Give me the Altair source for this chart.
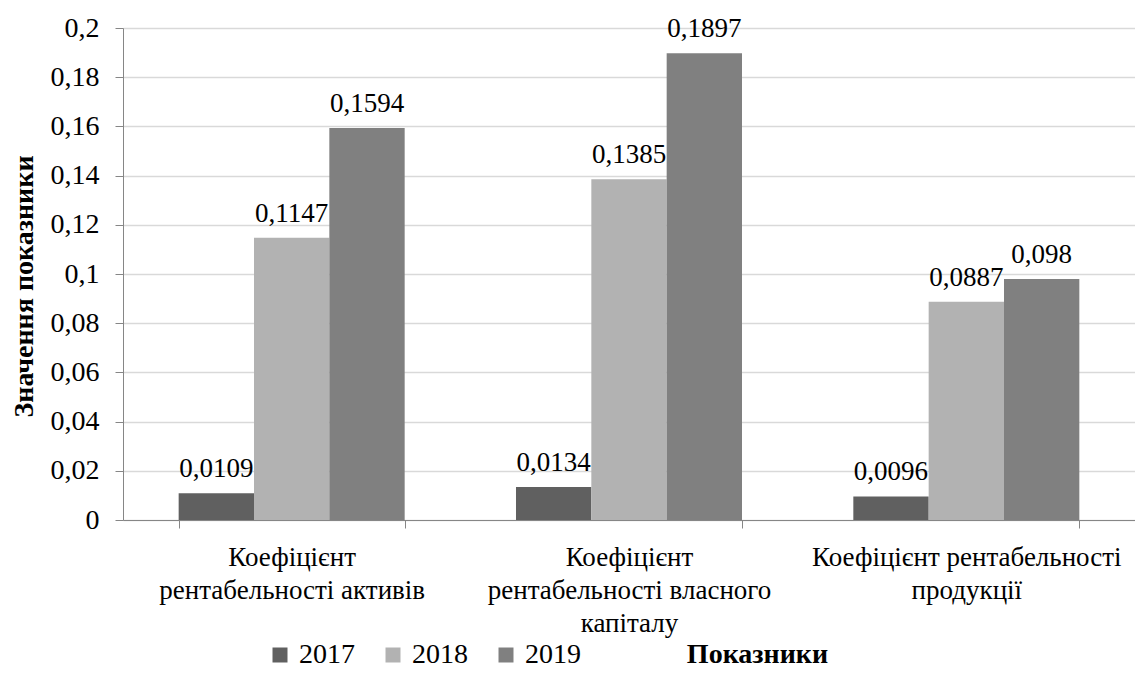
import altair as alt
import pandas as pd

categories = [
    "Коефіцієнт\nрентабельності активів",
    "Коефіцієнт\nрентабельності власного\nкапіталу",
    "Коефіцієнт рентабельності\nпродукції",
]
years = ["2017", "2018", "2019"]
values_2017 = [0.0109, 0.0134, 0.0096]
values_2018 = [0.1147, 0.1385, 0.0887]
values_2019 = [0.1594, 0.1897, 0.098]
colors = ["#606060", "#b2b2b2", "#808080"]
y_ticks = [0, 0.02, 0.04, 0.06, 0.08, 0.1, 0.12, 0.14, 0.16, 0.18, 0.2]

rows = []
for yr, vals in zip(years, [values_2017, values_2018, values_2019]):
    for c, v in zip(categories, vals):
        rows.append({"cat": c, "year": yr, "value": v,
                     "label": f"{v}".replace(".", ",")})
df = pd.DataFrame(rows)

FONT = "Liberation Serif"

x_enc = alt.X(
    "cat:N", sort=categories,
    scale=alt.Scale(paddingInner=0.33, paddingOuter=0.165),
    axis=alt.Axis(
        title="Показники", titleFont=FONT, titleFontSize=28, titleFontWeight="bold",
        titleColor="black", titleX=634, titleY=142, titleAlign="center",
        titleBaseline="alphabetic",
        labelExpr="split(datum.label, '\\n')", labelFont=FONT, labelFontSize=27,
        labelLineHeight=33, labelColor="black", labelLimit=500, labelAngle=0,
        labelPadding=16, labelBaseline="top",
        tickBand="extent", tickSize=8, tickColor="#868686", domainColor="#868686",
        grid=False,
    ),
)
y_enc = alt.Y(
    "value:Q",
    scale=alt.Scale(domain=[0, 0.2], nice=False),
    axis=alt.Axis(
        title="Значення показники", titleFont=FONT, titleFontSize=28,
        titleFontWeight="bold", titleColor="black", titleX=-99, titleY=258,
        titleAlign="center", titleBaseline="middle", titleAngle=-90,
        values=y_ticks,
        labelExpr="replace(toString(round(datum.value*100)/100), '.', ',')",
        labelFont=FONT, labelFontSize=28, labelColor="black", labelPadding=16,
        tickSize=8, tickColor="#868686", domainColor="#868686",
        gridColor="#d9d9d9", gridWidth=1.3,
    ),
)

base = alt.Chart(df).encode(
    x=x_enc, y=y_enc,
    xOffset=alt.XOffset("year:N", sort=years),
)

bars = base.mark_bar().encode(
    color=alt.Color(
        "year:N", sort=years,
        scale=alt.Scale(domain=years, range=colors),
        legend=alt.Legend(
            title=None, orient="none", legendX=143, legendY=613,
            direction="horizontal", symbolType="square", symbolSize=225,
            symbolStrokeWidth=0, labelFont=FONT, labelFontSize=28,
            labelColor="black", labelOffset=5, columnPadding=24,
        ),
    )
)

texts = base.mark_text(
    baseline="alphabetic", dy=-16, font=FONT, fontSize=27, color="black"
).encode(text="label:N")

chart = (
    alt.layer(bars, texts)
    .properties(
        width=1012, height=492,
        autosize=alt.AutoSizeParams(type="none"),
        padding={"left": 115, "top": 20, "right": 0, "bottom": 155},
    )
    .configure_view(stroke=None)
    .configure(background="white")
)

chart.save("out.html", embed_options={"renderer": "svg", "actions": False})
